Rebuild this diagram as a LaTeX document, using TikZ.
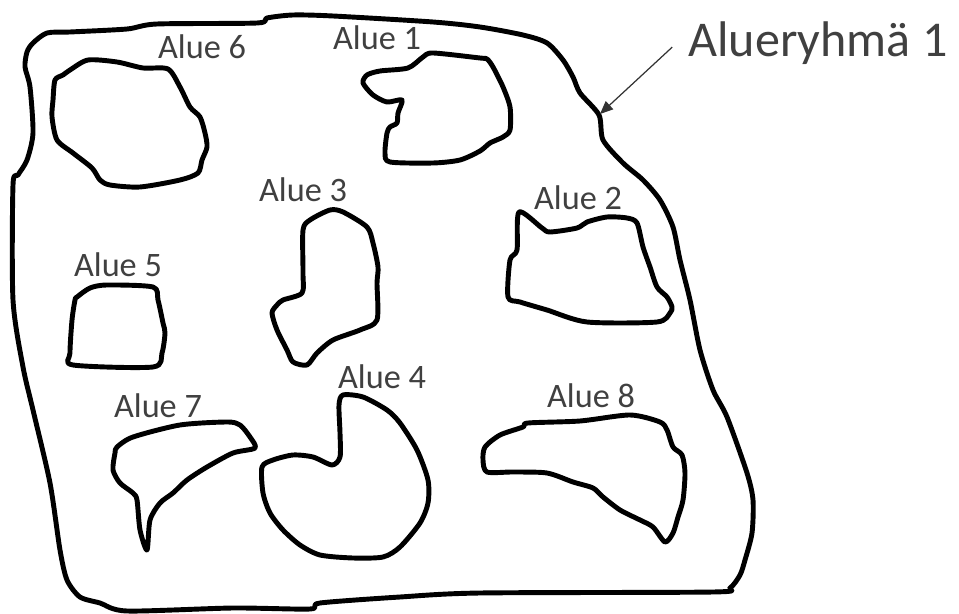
\documentclass[tikz,border=0pt]{standalone}
\usepackage{fontspec}
\setmainfont{Carlito}
\usetikzlibrary{arrows.meta}
\tikzset{
  area/.style={line width=2.8pt, line join=round, smooth cycle, tension=0.45},
  lbl/.style={font=\fontsize{19.5}{23}\selectfont, text=black!75, inner sep=0pt, anchor=base},
  arr/.style={-{Triangle[length=0.26cm, width=0.22cm]}, line width=0.7pt, black!80},
}
\begin{document}
\begin{tikzpicture}[x=0.02cm, y=-0.02cm]
  \useasboundingbox (0,0) rectangle (959,614);

  % Alueryhma (outer border)
  \draw[area] plot coordinates {(47,33) (70,32) (127,29) (157,24) (257,23) (267,18) (293,15)
    (333,16) (433,22) (480,27) (523,35) (547,43) (563,60) (573,77) (580,93) (599,115)
    (603,140) (623,163) (643,180) (660,200) (673,227) (680,260) (690,300) (700,350)
    (713,390) (727,417) (747,473) (753,500) (752,533) (745,560) (740,575) (730,588)
    (713,592) (480,593) (400,597) (320,603) (310,609) (233,608) (127,611) (100,603)
    (80,597) (67,580) (60,550) (50,483) (33,410) (23,367) (13,300) (13,185) (18,175)
    (27,160) (33,133) (30,87) (25,67) (27,52) (33,43)};

  % Alue 6
  \draw[area] plot coordinates {(55,80) (63,75) (70,70) (88,60) (117,62) (143,68) (168,69)
    (180,87) (190,107) (200,117) (205,133) (207,147) (202,160) (198,173) (180,180)
    (140,187) (110,185) (100,180) (92,168) (73,153) (57,140) (52,117) (53,100)};

  % Alue 1
  \draw[area] plot coordinates {(408,68) (423,57) (433,53) (480,58) (487,59) (493,67)
    (503,87) (510,107) (510,130) (503,137) (490,143) (480,151) (460,160) (433,163)
    (390,162) (385,153) (387,133) (390,127) (397,123) (398,113) (402,100) (387,102)
    (373,95) (363,83) (367,75) (380,71)};

  % Alue 3
  \draw[area] plot coordinates {(303,230) (310,220) (330,210) (343,212) (367,227) (373,243)
    (378,267) (377,283) (377,320) (360,330) (333,340) (317,353) (307,365) (293,362)
    (287,350) (277,330) (272,313) (277,305) (283,300) (302,293) (303,273)};

  % Alue 5
  \draw[area] plot coordinates {(77,297) (90,288) (107,285) (153,287) (158,300) (163,323)
    (165,333) (162,353) (153,367) (73,365) (70,353) (72,320) (75,300)};

  % Alue 2
  \draw[area] plot coordinates {(519,212) (542,228) (550,232) (577,228) (587,222) (607,217)
    (627,218) (637,223) (643,247) (650,267) (657,287) (667,297) (672,307) (670,313)
    (657,322) (587,322) (547,310) (520,302) (508,297) (510,260) (517,250)};

  % Alue 7
  \draw[area] plot coordinates {(117,447) (133,437) (180,425) (227,422) (240,425) (250,437)
    (255,448) (233,453) (207,467) (187,480) (173,493) (160,503) (150,520) (147,550)
    (140,530) (137,500) (133,493) (120,483) (113,470) (115,453)};

  % Alue 4
  \draw[area] plot coordinates {(343,395) (363,397) (387,410) (400,423) (417,450) (428,480)
    (428,503) (420,523) (400,547) (383,557) (353,558) (320,555) (300,545) (283,530)
    (270,513) (263,493) (262,467) (273,460) (293,455) (313,457) (332,465) (340,457)
    (340,433) (339,405)};

  % Alue 8
  \draw[area] plot coordinates {(500,435) (523,427) (528,423) (580,421) (630,415) (660,422)
    (667,430) (673,447) (682,455) (685,473) (683,500) (678,517) (673,533) (665,542)
    (653,527) (640,520) (620,510) (603,497) (593,488) (573,482) (547,473) (513,472)
    (487,472) (483,460) (485,447)};

  % labels
  \node[lbl] (a6) at (202,59) {Alue 6};
  \node[lbl] (a1) at (377,50) {Alue 1};
  \node[lbl] (a3) at (303,202) {Alue 3};
  \node[lbl] (a5) at (118,277) {Alue 5};
  \node[lbl] (a2) at (578,210) {Alue 2};
  \node[lbl] (a7) at (158,418) {Alue 7};
  \node[lbl] (a4) at (382,388) {Alue 4};
  \node[lbl] (a8) at (591,407) {Alue 8};

  % group label and arrow
  \node[lbl, font=\fontsize{28.5}{34}\selectfont, anchor=base west] (grp) at (688,57) {Alueryhmä 1};
  \coordinate (edge) at (600,114);
  \draw[arr] ([xshift=-9pt, yshift=-2pt]grp.west) -- (edge);
\end{tikzpicture}
\end{document}
